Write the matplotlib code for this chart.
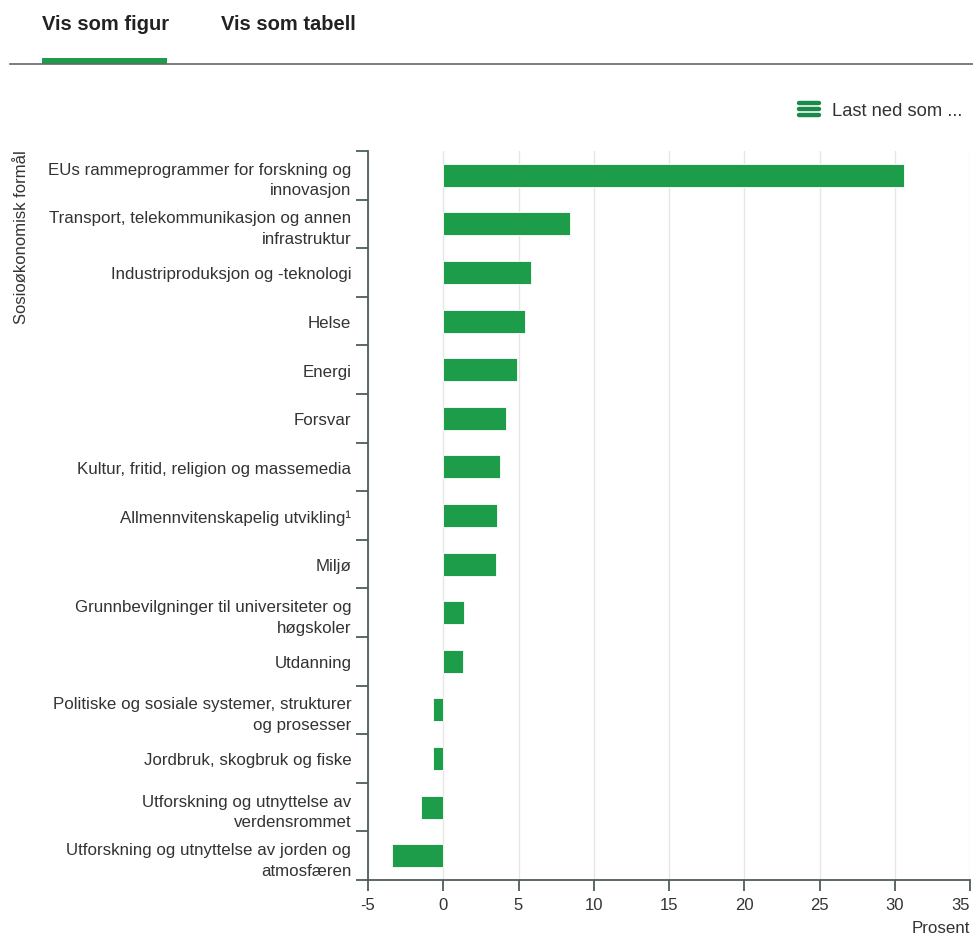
import numpy as np
import matplotlib.pyplot as plt
from matplotlib.patches import Rectangle
from matplotlib.lines import Line2D

plt.rcParams['font.family'] = ['Liberation Sans', 'DejaVu Sans']

categories = [
  "EUs rammeprogrammer for forskning og\ninnovasjon",
  "Transport, telekommunikasjon og annen\ninfrastruktur",
  "Industriproduksjon og -teknologi",
  "Helse",
  "Energi",
  "Forsvar",
  "Kultur, fritid, religion og massemedia",
  "Allmennvitenskapelig utvikling\u00b9",
  "Milj\u00f8",
  "Grunnbevilgninger til universiteter og\nh\u00f8gskoler",
  "Utdanning",
  "Politiske og sosiale systemer, strukturer\nog prosesser",
  "Jordbruk, skogbruk og fiske",
  "Utforskning og utnyttelse av\nverdensrommet",
  "Utforskning og utnyttelse av jorden og\natmosf\u00e6ren",
]
values = [30.6, 8.4, 5.8, 5.4, 4.9, 4.2, 3.8, 3.6, 3.5, 1.4, 1.3, -0.65, -0.7, -1.5, -3.4]
xticks = [-5, 0, 5, 10, 15, 20, 25, 30, 35]

green = "#1d9c4a"
axcol = "#4f5d5d"
txt = "#333333"

W, H = 973, 937
fig = plt.figure(figsize=(W/100, H/100), dpi=100)

# tabs header
fig.text(42/W, 1-24/H, "Vis som figur", fontsize=14.5, fontweight="bold", color="#222222", va="center", ha="left")
fig.text(221/W, 1-24/H, "Vis som tabell", fontsize=14.5, fontweight="bold", color="#222222", va="center", ha="left")
fig.add_artist(Line2D([10/W, 1], [1-64.5/H, 1-64.5/H], color="#5f6b6b", lw=1.2))
fig.add_artist(Rectangle((42/W, 1-65/H), 125/W, 6/H, color=green, lw=0))

# download menu
for yy in [104, 110, 116]:
  fig.add_artist(Line2D([799/W, 819/W], [1-yy/H, 1-yy/H], color="#1a8a4a", lw=3.2, solid_capstyle="round"))
fig.text(832/W, 1-112/H, "Last ned som ...", fontsize=13.2, color="#333333", va="center", ha="left")

ax = fig.add_axes([368/W, 1-881/H, (970-368)/W, (881-152)/H])
y = np.arange(len(categories))
ax.barh(y, values, height=0.47, color=green, edgecolor="white", linewidth=0.6, zorder=3)
ax.set_ylim(len(categories)-0.5, -0.5)
ax.set_xlim(-5, 35)
ax.set_xticks(xticks)
ax.set_xticklabels([str(t) for t in xticks])
ax.grid(axis="x", color="#e6e6e6", lw=1, zorder=0)

ax.set_yticks(y)
ax.set_yticklabels(categories, fontsize=12.2, color=txt, ha="right", multialignment="right", linespacing=1.45)
ax.set_yticks(np.arange(len(categories)+1)-0.5, minor=True)
ax.tick_params(axis="y", which="major", length=0, pad=12)
ax.tick_params(axis="y", which="minor", length=9, width=1.3, color=axcol)
ax.tick_params(axis="x", length=8, width=1.3, color=axcol, labelsize=12, labelcolor=txt, pad=4)

# last tick label kept inside the figure
lab = ax.get_xticklabels()[-1]
lab.set_horizontalalignment("right")
lab.set_x(35.4)

for s in ["top", "right"]:
  ax.spines[s].set_visible(False)
for s in ["left", "bottom"]:
  ax.spines[s].set_color(axcol)
  ax.spines[s].set_linewidth(1.3)

fig.text(970/W, 1-929/H, "Prosent", fontsize=12.2, color=txt, ha="right", va="center")
fig.text(22/W, 1-150/H, "Sosio\u00f8konomisk form\u00e5l", fontsize=12, color=txt, rotation=90, ha="center", va="top")

fig.savefig("out.png", dpi=100, facecolor="white")
